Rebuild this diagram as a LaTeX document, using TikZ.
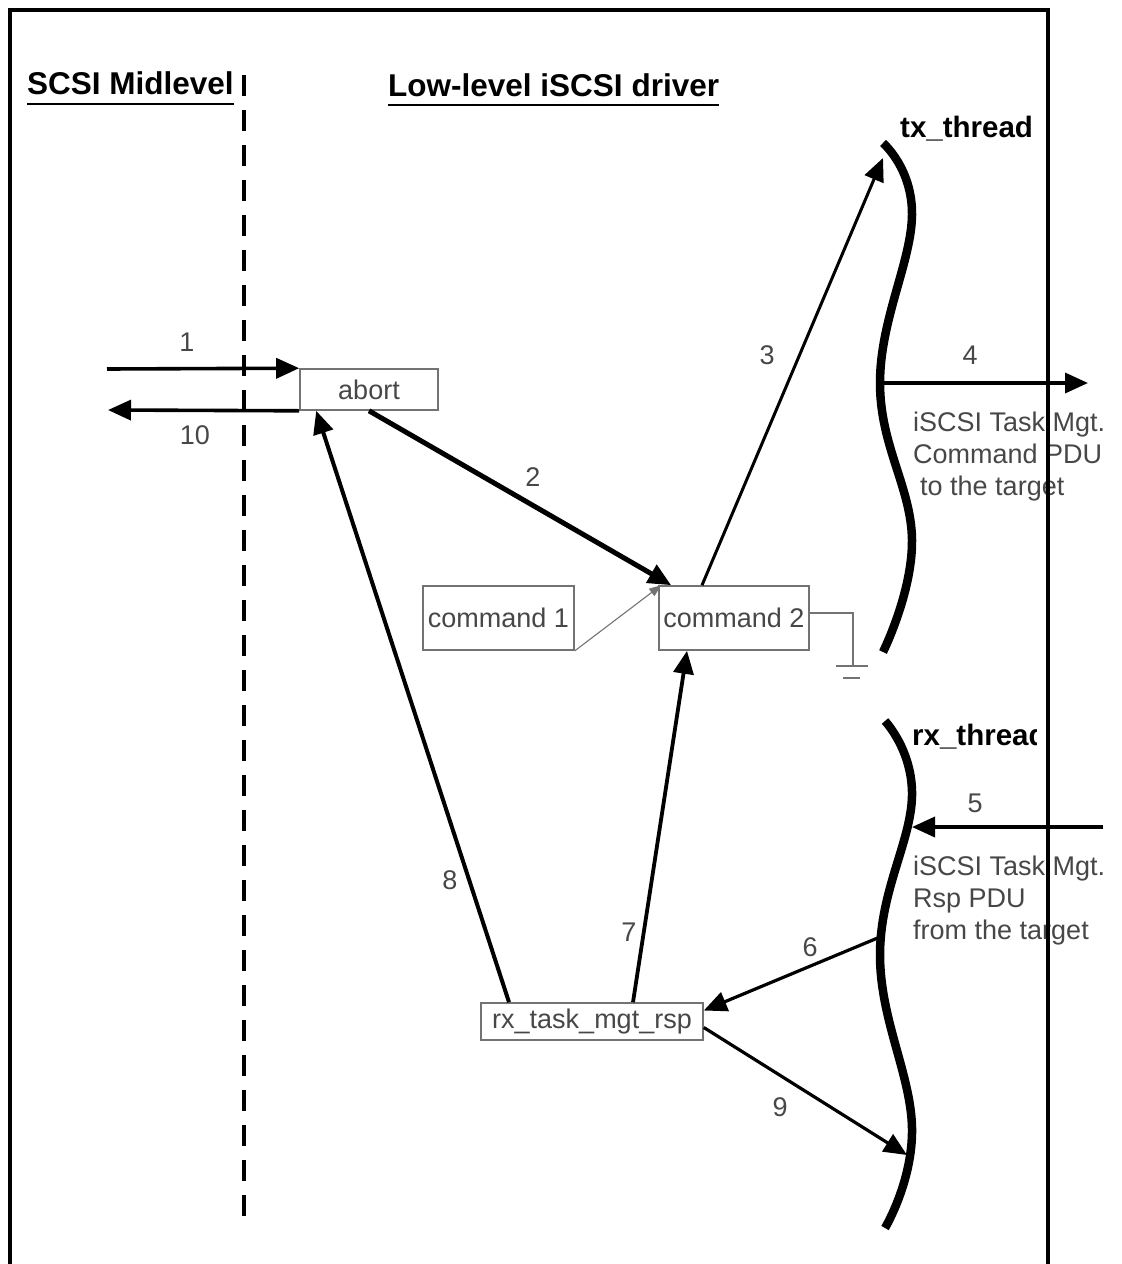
\documentclass[tikz,border=0pt]{standalone}
\usepackage{fontspec}
\setmainfont{Liberation Sans}
\usepackage{xcolor}
\usetikzlibrary{arrows.meta}
\colorlet{TextGray}{black!72}
\colorlet{BoxGray}{black!55}
\tikzset{
  fnbox/.style={draw=BoxGray, line width=1.6pt, inner sep=0pt,
    font=\fontsize{27}{32}\selectfont, text=TextGray},
  heading/.style={font=\fontsize{31.5}{36}\selectfont\bfseries, inner sep=0pt, anchor=base west},
  thrlabel/.style={font=\fontsize{29.5}{34}\selectfont\bfseries, inner sep=0pt, anchor=base west},
  steplbl/.style={font=\fontsize{27}{32}\selectfont, text=TextGray, inner sep=0pt},
  pdutxt/.style={font=\fontsize{27}{32}\selectfont, text=TextGray, inner sep=0pt,
    anchor=north west, align=left},
  arr/.style={-{Triangle[length=23pt,width=20pt]}, line width=3.6pt},
  bigarr/.style={arr, line width=5pt},
  thinarr/.style={-{Triangle[length=12pt,width=9pt]}, line width=1.1pt, color=BoxGray},
  thread/.style={line width=8.5pt},
  frame/.style={line width=3.5pt},
  midline/.style={line width=4pt, dash pattern=on 21pt off 14pt},
}

\begin{document}
\begin{tikzpicture}[x=1pt, y=-1pt]
  \useasboundingbox (0,0) rectangle (1122,1264);

  % headings and layer split
  \node[heading] (hmid) at (27,94) {SCSI Midlevel};
  \node[heading] (hlow) at (388,96) {Low-level iSCSI driver};
  \draw[line width=2.5pt] ([yshift=-10pt]hmid.base west) -- ([yshift=-10pt]hmid.base east);
  \draw[line width=2.5pt] ([yshift=-9pt]hlow.base west) -- ([yshift=-9pt]hlow.base east);
  \draw[midline] (244,75) -- (244,1222);

  % threads
  \draw[thread] plot[smooth, tension=0.7] coordinates {(883,143) (912,215) (880,383) (912,540) (883,652)};
  \draw[thread] plot[smooth, tension=0.7] coordinates {(885,721) (912,796) (880,955) (912,1128) (885,1228)};
  \node[thrlabel] (txlbl) at (900,137) {tx\_thread};
  \begin{scope}
    \clip (880,700) rectangle (1036,760);
    \node[thrlabel] (rxlbl) at (912,745) {rx\_thread};
  \end{scope}
  \coordinate (txtip) at (883,158);
  \coordinate (txmid) at (880,383);
  \coordinate (out4) at (1088,383);
  \coordinate (in5) at (1103,827);
  \coordinate (rxin) at (912,827);
  \coordinate (rxout) at (880,937);
  \coordinate (rxend) at (907,1155);
  \coordinate (in1) at (107,369);
  \coordinate (out10) at (108,410);

  % functions
  \node[fnbox, minimum width=138pt, minimum height=41pt] (abortbox) at (369,389.5) {abort};
  \node[fnbox, minimum width=151pt, minimum height=64pt] (cmdone) at (498.5,618) {command 1};
  \node[fnbox, minimum width=150pt, minimum height=64pt] (cmdtwo) at (734,618) {command 2};
  \node[fnbox, minimum width=222pt, minimum height=37pt] (rxbox) at (592,1021.5) {rx\_task\_mgt\_rsp};

  % ground on command 2
  \coordinate (gnd) at (853,666);
  \draw[line width=1.6pt, BoxGray] ([yshift=5pt]cmdtwo.east) -| (gnd);
  \draw[line width=1.6pt, BoxGray] ([xshift=-17pt]gnd) -- ([xshift=15pt]gnd);
  \draw[line width=1.6pt, BoxGray] ([xshift=-10pt,yshift=-12pt]gnd) -- ([xshift=7pt,yshift=-12pt]gnd);

  % numbered steps
  \draw[arr] (in1) -- (abortbox.north west);
  \draw[bigarr] (abortbox.south) -- ([xshift=13pt]cmdtwo.north west);
  \draw[thinarr] (cmdone.south east) -- ([xshift=3pt]cmdtwo.north west);
  \draw[arr, line width=3pt] ([xshift=-32pt]cmdtwo.north) -- (txtip);
  \draw[arr] (txmid) -- (out4);
  \draw[arr] (in5) -- (rxin);
  \draw[arr, line width=3.2pt] (rxout) -- ([yshift=11pt]rxbox.east);
  \draw[arr, line width=3.8pt] ([xshift=41pt]rxbox.north) -- ([xshift=-47pt]cmdtwo.south);
  \draw[arr, line width=4pt] ([xshift=-83pt]rxbox.north) -- ([xshift=17pt]abortbox.south west);
  \draw[arr, line width=3.2pt] ([yshift=-6pt]rxbox.east) -- (rxend);
  \draw[arr] (abortbox.south west) -- (out10);

  \node[steplbl] (n1) at (187,342) {1};
  \node[steplbl] (n2) at (533,477) {2};
  \node[steplbl] (n3) at (767,355) {3};
  \node[steplbl] (n4) at (970,355) {4};
  \node[steplbl] (n5) at (975,803) {5};
  \node[steplbl] (n6) at (810,947) {6};
  \node[steplbl] (n7) at (629,932) {7};
  \node[steplbl] (n8) at (450,880) {8};
  \node[steplbl] (n9) at (780,1107) {9};
  \node[steplbl] (n10) at (195,435) {10};

  \node[pdutxt] (pduout) at (913,412) {iSCSI Task Mgt.\\Command PDU\\\hspace*{7pt}to the target};
  \node[pdutxt] (pduin) at (913,856) {iSCSI Task Mgt.\\Rsp PDU\\from the target};

  \draw[frame] (10,1264) -- (10,10) -- (1048,10) -- (1048,1264);
\end{tikzpicture}
\end{document}
